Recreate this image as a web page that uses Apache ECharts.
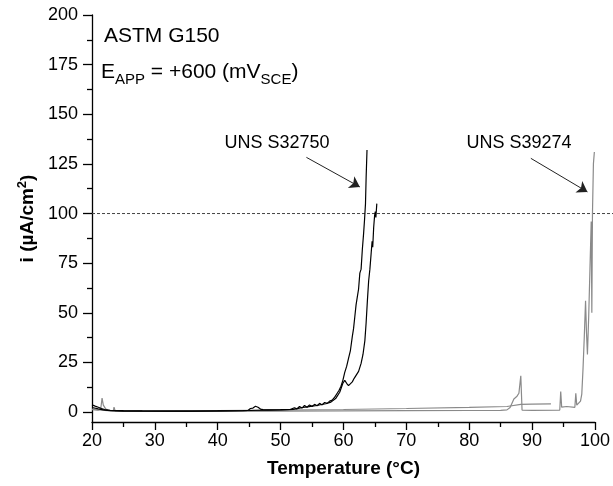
<!DOCTYPE html>
<html>
<head>
<meta charset="utf-8">
<script src="https://cdn.jsdelivr.net/npm/echarts@6/dist/echarts.min.js"></script>
<style>
  html, body { margin: 0; padding: 0; background: #fff; }
  #chart { width: 613px; height: 486px; }
</style>
</head>
<body>
<div id="chart"></div>
<script>
// UNS S32750 - two runs (black)
const s32750RunAx = [20, 20.5, 21, 21.5, 22, 22.5, 23, 25, 28, 32, 36, 40, 44, 44.8, 45.2, 45.6, 46, 46.4, 46.8, 47.2, 48, 50, 51.5, 52.2, 52.6, 53, 53.4, 53.8, 54.2, 54.6, 55, 55.4, 55.8, 56.2, 56.6, 57, 57.4, 57.8, 58.2, 58.6, 59, 59.3, 59.6, 59.9, 60.2, 60.5, 60.8, 61.1, 61.4, 61.6, 61.8, 62, 62.2, 62.4, 62.6, 62.8, 63, 63.2, 63.35, 63.5, 63.6, 63.74];
const s32750RunAy = [3.7, 3.0, 2.4, 1.8, 1.3, 1.0, 0.8, 0.7, 0.6, 0.5, 0.5, 0.6, 0.7, 0.8, 1.8, 2.0, 2.9, 2.4, 1.5, 1.2, 1.1, 1.2, 1.3, 2.2, 1.6, 2.8, 2.0, 3.3, 2.4, 3.6, 2.8, 3.9, 3.2, 4.4, 3.6, 4.8, 4.4, 5.5, 6.0, 7.5, 9.5, 11, 13, 16, 20, 23, 27, 31, 38, 42, 48, 54, 58, 62, 70, 72, 82, 90, 97, 105, 118, 132];
const s32750RunBx = [20, 21, 22, 23, 25, 30, 35, 40, 45, 48, 50, 52, 52.8, 53.5, 54.3, 55, 55.8, 56.5, 57.2, 58, 58.8, 59.4, 59.9, 60.2, 60.5, 60.8, 61.1, 61.4, 61.7, 62.0, 62.4, 62.8, 63.1, 63.4, 63.6, 63.8, 64.0, 64.2, 64.4, 64.55, 64.65, 64.8, 64.95, 65.06, 65.15, 65.3];
const s32750RunBy = [2.3, 1.6, 1.0, 0.7, 0.5, 0.5, 0.5, 0.6, 0.8, 1.0, 1.1, 1.4, 1.9, 2.3, 2.6, 3.0, 3.3, 3.8, 4.2, 5.0, 7.0, 10.0, 14.5, 16.0, 14.5, 13.3, 14.0, 15.2, 17.0, 18.5, 20.5, 24.5, 29, 36, 45, 56, 66, 72, 80, 86, 83, 93, 99, 101, 98, 105];

// UNS S39274 - two runs (grey)
const s39274RunAx = [20, 21, 21.4, 21.6, 21.8, 22.2, 22.8, 23.4, 23.5, 23.7, 25, 30, 40, 50, 60, 70, 80, 85, 86, 86.5, 87.1, 87.6, 87.9, 88.2, 88.4, 90, 94.4, 94.55, 94.7, 94.9, 95.5, 96.8, 96.95, 97.1, 97.4, 97.7, 97.9, 98.1, 98.3, 98.5, 98.65, 98.8, 99.0, 99.2, 99.4, 99.5, 99.6, 99.75, 99.9];
const s39274RunAy = [1.2, 1.0, 1.8, 7.0, 3.5, 1.5, 0.9, 0.7, 2.5, 0.5, 0.4, 0.3, 0.4, 0.5, 0.6, 0.7, 0.8, 0.9, 1.1, 2.3, 6.6, 8.0, 9.5, 18.3, 1.0, 0.9, 1.0, 10.4, 2.5, 2.0, 2.8, 2.4, 9.4, 3.5, 4.2, 5.5, 9, 22, 38, 56, 40, 29, 48, 72, 96, 50, 100, 125, 131];
const s39274RunBx = [20, 21, 22, 23, 25, 30, 40, 50, 60, 70, 80, 86, 88.2, 90, 93];
const s39274RunBy = [1.5, 1.1, 0.8, 0.6, 0.5, 0.6, 0.8, 1.0, 1.3, 1.8, 2.4, 2.8, 3.9, 4.0, 4.1];

// axes
const xRange = [20, 100];
const yRange = [-5, 200];
const yMajorTicks = [0, 25, 50, 75, 100, 125, 150, 175, 200];
const yMinorTicks = [12.5, 37.5, 62.5, 87.5, 112.5, 137.5, 162.5, 187.5];
const threshold = 100;

// annotation arrows: start, end (data coords)
const arrowS32750 = [[54.1, 128.3], [62.6, 113.4]];
const arrowS39274 = [[89.8, 127.8], [98.8, 110.9]];

const FONT = "'Liberation Sans', Arial, Helvetica, sans-serif";

function pairs(xs, ys) {
  return xs.map((x, i) => [x, ys[i]]);
}

const chart = echarts.init(document.getElementById("chart"));

const axisLineStyle = { color: "#000", width: 1.3 };

function curve(name, xs, ys, color) {
  return {
    name: name,
    type: "line",
    xAxisIndex: 0,
    yAxisIndex: 0,
    showSymbol: false,
    symbol: "none",
    data: pairs(xs, ys),
    lineStyle: { color: color, width: 1.2 },
    z: color === "#000" ? 3 : 2,
  };
}

function arrow(coords) {
  return {
    type: "line",
    xAxisIndex: 0,
    yAxisIndex: 0,
    data: [],
    markLine: {
      silent: true,
      animation: false,
      symbol: ["none", "arrow"],
      symbolSize: 10,
      label: { show: false },
      lineStyle: { color: "#222", width: 1, type: "solid" },
      itemStyle: { color: "#222" },
      data: [[{ coord: coords[0] }, { coord: coords[1] }]],
    },
  };
}

chart.setOption({
  animation: false,
  backgroundColor: "#fff",
  textStyle: { fontFamily: FONT },
  grid: [
    { left: 92, right: 18, top: 15, bottom: 64 },
    // wider grid only for the dashed 100 line (runs to the page edge)
    { left: 92, right: 0, top: 15, bottom: 64 },
  ],
  xAxis: [
    {
      type: "value",
      gridIndex: 0,
      min: xRange[0],
      max: xRange[1],
      interval: 10,
      axisLine: { onZero: false, lineStyle: axisLineStyle },
      axisTick: { length: 8, lineStyle: axisLineStyle },
      minorTick: { show: true, splitNumber: 2, length: 5, lineStyle: axisLineStyle },
      splitLine: { show: false },
      axisLabel: { color: "#000", fontSize: 18, margin: 10, fontFamily: FONT },
      name: "Temperature (°C)",
      nameLocation: "middle",
      nameGap: 37,
      nameTextStyle: { color: "#000", fontSize: 19, fontWeight: "bold", fontFamily: FONT },
    },
    { type: "value", gridIndex: 1, min: 0, max: 1, show: false },
  ],
  yAxis: [
    {
      type: "value",
      gridIndex: 0,
      min: yRange[0],
      max: yRange[1],
      axisLine: { show: true, onZero: false, lineStyle: axisLineStyle },
      axisTick: { show: true, length: 9, lineStyle: axisLineStyle, customValues: yMajorTicks },
      splitLine: { show: false },
      axisLabel: { color: "#000", fontSize: 18, margin: 14, fontFamily: FONT, customValues: yMajorTicks },
      name: "{t|i (µA/cm}{sup|2}{t|)}",
      nameLocation: "middle",
      nameGap: 52,
      nameTextStyle: {
        color: "#000",
        fontFamily: FONT,
        rich: {
          t: { fontSize: 19, fontWeight: "bold", color: "#000", fontFamily: FONT },
          sup: { fontSize: 13, fontWeight: "bold", color: "#000", fontFamily: FONT, padding: [0, 0, 10, 0] },
        },
      },
    },
    {
      // minor ticks only
      type: "value",
      gridIndex: 0,
      position: "left",
      min: yRange[0],
      max: yRange[1],
      axisLine: { show: false },
      axisTick: { show: true, length: 5, lineStyle: axisLineStyle, customValues: yMinorTicks },
      axisLabel: { show: false },
      splitLine: { show: false },
    },
    { type: "value", gridIndex: 1, min: yRange[0], max: yRange[1], show: false },
  ],
  series: [
    curve("S39274 run 1", s39274RunAx, s39274RunAy, "#8a8a8a"),
    curve("S39274 run 2", s39274RunBx, s39274RunBy, "#8a8a8a"),
    curve("S32750 run 1", s32750RunAx, s32750RunAy, "#000"),
    curve("S32750 run 2", s32750RunBx, s32750RunBy, "#000"),
    {
      name: "100 line",
      type: "line",
      xAxisIndex: 1,
      yAxisIndex: 2,
      showSymbol: false,
      symbol: "none",
      data: [[0, threshold], [1, threshold]],
      lineStyle: { color: "#444", width: 1, type: [3, 2] },
      z: 1,
    },
    arrow(arrowS32750),
    arrow(arrowS39274),
  ],
  graphic: [
    {
      type: "text",
      left: 104,
      top: 26,
      style: { text: "ASTM G150", fontSize: 21, fill: "#000", fontFamily: FONT },
    },
    {
      type: "text",
      left: 101,
      top: 62,
      style: {
        text: "{m|E}{s|APP}{m| = +600 (mV}{s|SCE}{m|)}",
        fill: "#000",
        fontFamily: FONT,
        rich: {
          m: { fontSize: 21, fontFamily: FONT, fill: "#000", lineHeight: 24 },
          s: { fontSize: 15, fontFamily: FONT, fill: "#000", padding: [14, 0, 0, 0] },
        },
      },
    },
    {
      type: "text",
      x: 277,
      y: 143,
      style: { text: "UNS S32750", fontSize: 18, fill: "#000", fontFamily: FONT, align: "center", verticalAlign: "middle" },
    },
    {
      type: "text",
      x: 519,
      y: 143,
      style: { text: "UNS S39274", fontSize: 18, fill: "#000", fontFamily: FONT, align: "center", verticalAlign: "middle" },
    },
  ],
});
</script>
</body>
</html>
